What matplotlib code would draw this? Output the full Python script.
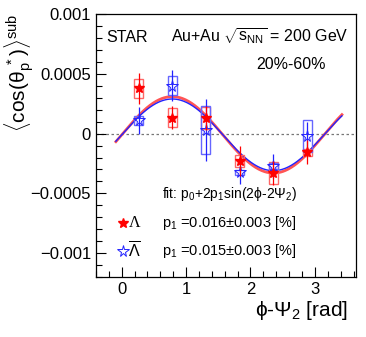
import matplotlib.pyplot as plt
import numpy as np
from matplotlib.patches import Rectangle
from matplotlib.ticker import MultipleLocator

plt.rcParams['font.family'] = ['Liberation Sans', 'DejaVu Sans']
plt.rcParams['mathtext.fontset'] = 'custom'
plt.rcParams['mathtext.rm'] = 'Liberation Sans'
plt.rcParams['mathtext.it'] = 'Liberation Sans'
plt.rcParams['mathtext.sf'] = 'Liberation Sans'

# phi - Psi2 bin centres [rad]
phi = [0.262, 0.785, 1.309, 1.833, 2.356, 2.880]

# Lambda (filled red stars)
lam_val = [0.00038, 0.000135, 0.00013, -0.000232, -0.00033, -0.000155]
lam_stat = [0.00013, 0.0001, 0.0001, 0.000125, 0.0001, 0.0001]
lam_sys = [0.00008, 0.00008, 0.00009, 0.00005, 0.00009, 0.00003]

# anti-Lambda (open blue stars)
alam_val = [0.00011, 0.0004, 0.00003, -0.000325, -0.000268, -0.00002]
alam_stat = [0.00011, 0.00013, 0.00026, 0.0001, 0.0001, 0.00012]
alam_sys = [0.00004, 0.00008, 0.0002, 0.00002, 0.000025, 0.00013]

# fit p0 + 2 p1 sin(2phi - 2Psi2)
lam_p0, lam_p1 = -0.00001, 0.00016
alam_p0, alam_p1 = -0.00001, 0.00015
fit_range = (-0.09, 3.42)

red = '#ff0000'
blue = '#2222ff'

fig = plt.figure(figsize=(3.66, 3.37), dpi=100)
ax = fig.add_axes([0.262, 0.178, 0.711, 0.780])

ax.axhline(0, color='#777777', ls=(0, (2, 2)), lw=0.9, zorder=1)

xf = np.linspace(fit_range[0], fit_range[1], 300)
ax.plot(xf, lam_p0 + 2 * lam_p1 * np.sin(2 * xf), color='#ff5555', lw=2.0, zorder=2)
ax.plot(xf, alam_p0 + 2 * alam_p1 * np.sin(2 * xf), color=blue, lw=1.0, zorder=3)

hw = 0.07
for x, y, s in zip(phi, lam_val, lam_sys):
    ax.add_patch(Rectangle((x - hw, y - s), 2 * hw, 2 * s, fill=False,
                           ec='#ff6666', lw=1.0, zorder=4))
for x, y, s in zip(phi, alam_val, alam_sys):
    ax.add_patch(Rectangle((x - hw, y - s), 2 * hw, 2 * s, fill=False,
                           ec='#6666ff', lw=1.0, zorder=4))

ax.errorbar(phi, lam_val, yerr=lam_stat, fmt='*', color=red, ms=7.5,
            mec=red, mfc=red, elinewidth=0.9, capsize=0, zorder=6)
ax.errorbar(phi, alam_val, yerr=alam_stat, fmt='*', color=blue, ms=8.5,
            mec=blue, mfc='none', mew=0.7, elinewidth=0.9, capsize=0, zorder=5)

ax.set_xlim(-0.4, 3.64)
ax.set_ylim(-0.0012, 0.001)
ax.xaxis.set_major_locator(MultipleLocator(1))
ax.xaxis.set_minor_locator(MultipleLocator(0.2))
ax.yaxis.set_minor_locator(MultipleLocator(0.0001))
ax.set_yticks([-0.001, -0.0005, 0, 0.0005, 0.001])
ax.set_yticklabels(['\u22120.001', '\u22120.0005', '0', '0.0005', '0.001'])
ax.tick_params(which='both', direction='in', top=False, right=False,
               labelsize=12)
ax.tick_params(which='major', length=7, width=0.8)
ax.tick_params(which='minor', length=4, width=0.8)
for sp in ax.spines.values():
    sp.set_linewidth(0.9)

fig.text(0.055, 0.958, r'$\langle\mathrm{cos(\theta_p^{\ *})}\rangle^{\mathrm{sub}}$',
         rotation=90, ha='center', va='top', fontsize=15)
fig.text(0.952, 0.045, r'$\mathrm{\phi}$-$\Psi_{2}$ [rad]', ha='right',
         va='bottom', fontsize=15)

ax.text(0.04, 0.895, 'STAR', transform=ax.transAxes, fontsize=11.5)
ax.text(0.97, 0.895, r'Au+Au $\sqrt{s_{NN}}$ = 200 GeV', transform=ax.transAxes,
        ha='right', fontsize=11.5)
ax.text(0.885, 0.79, '20%-60%', transform=ax.transAxes, ha='right', fontsize=11.5)

ax.text(0.253, 0.3, r'fit: p$_0$+2p$_1$sin(2$\phi$-2$\Psi_2$)', transform=ax.transAxes,
        fontsize=10)
ax.text(0.253, 0.19, r'p$_1$ =0.016$\pm$0.003 [%]', transform=ax.transAxes, fontsize=10.5)
ax.text(0.253, 0.085, r'p$_1$ =0.015$\pm$0.003 [%]', transform=ax.transAxes, fontsize=10.5)

ax.plot([0.105], [0.205], '*', color=red, ms=7.5, transform=ax.transAxes, clip_on=False)
ax.text(0.125, 0.205, '\u039b', transform=ax.transAxes, fontsize=11.5, va='center',
        family='Liberation Serif')
ax.plot([0.105], [0.1], '*', color=blue, mfc='none', mew=0.7, ms=8.5,
        transform=ax.transAxes, clip_on=False)
ax.text(0.125, 0.1, r'$\overline{\Lambda}$', transform=ax.transAxes, fontsize=11.5,
        va='center')

fig.savefig('out.png', dpi=100)
